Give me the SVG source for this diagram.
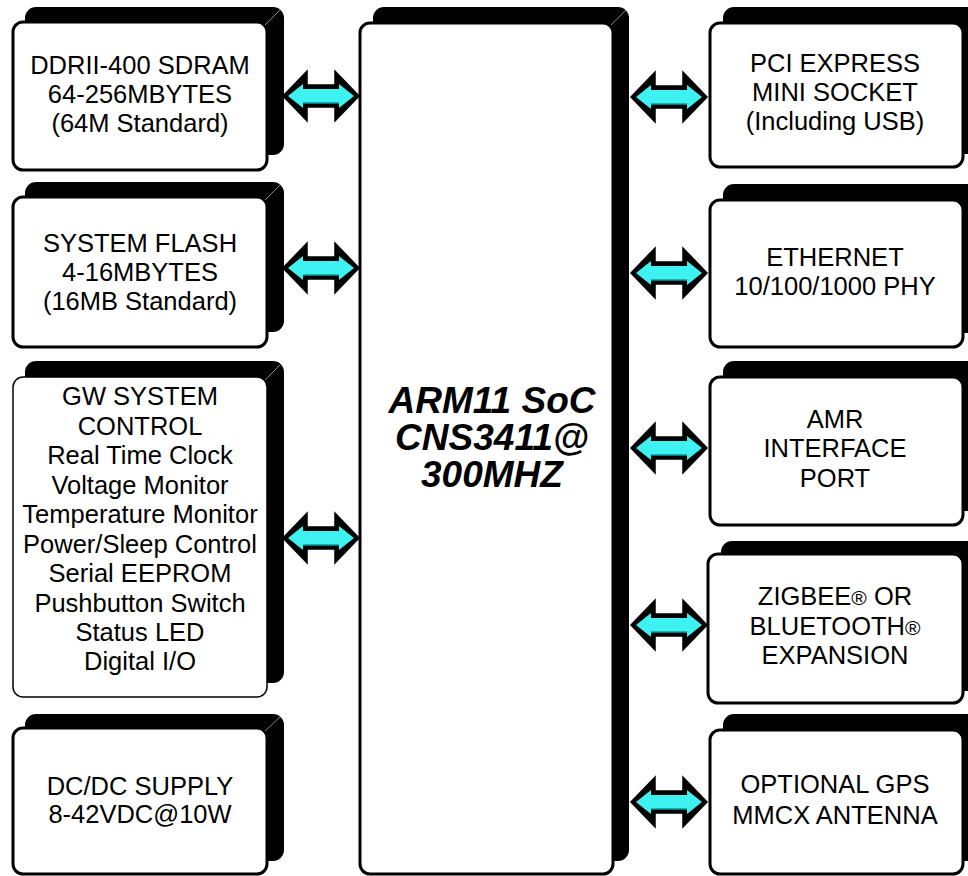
<svg xmlns="http://www.w3.org/2000/svg" xmlns:xlink="http://www.w3.org/1999/xlink" width="968" height="876" viewBox="0 0 968 876">
<style>
.slab{fill:#000;stroke:#000;stroke-width:2}
.front{fill:#fff;stroke:#000;stroke-width:3}
.thin{fill:#fff;stroke:#000;stroke-width:1.5}
.hl{fill:none;stroke:#888;stroke-width:1}
.t{font-family:"Liberation Sans",Arial,sans-serif;font-size:25.5px;text-anchor:middle;fill:#000}
.tc{font-family:"Liberation Sans",Arial,sans-serif;font-size:37px;font-weight:bold;font-style:italic;text-anchor:middle;fill:#000}
.reg{font-size:21px}
</style>
<defs>
<g id="dblarrow">
<polygon points="0,0 24,-25 24,-11 52,-11 52,-25 76,0 52,25 52,11 24,11 24,25" fill="#000" stroke="#000" stroke-width="1.5" stroke-linejoin="miter"/>
<polygon points="5,0 20,-12 20,-7 56,-7 56,-12 71,0 56,12 56,7 20,7 20,12" fill="#3ff2f2"/>
<line x1="20" y1="7" x2="56" y2="7" stroke="#0a9a9a" stroke-width="1.5"/>
</g>
</defs>
<rect width="968" height="876" fill="#fff"/>

<g id="connectors">
<use xlink:href="#dblarrow" x="283" y="96"/>
<use xlink:href="#dblarrow" x="283" y="268"/>
<use xlink:href="#dblarrow" x="283" y="538"/>
<use xlink:href="#dblarrow" x="631" y="97"/>
<use xlink:href="#dblarrow" x="631" y="273"/>
<use xlink:href="#dblarrow" x="631" y="448"/>
<use xlink:href="#dblarrow" x="631" y="625"/>
<use xlink:href="#dblarrow" x="631" y="802"/>
</g>

<g id="soc">
<rect class="slab" x="374" y="8" width="254" height="852" rx="10"/>
<rect class="front" x="360" y="23" width="253" height="851" rx="10"/>
<line class="hl" x1="611" y1="25" x2="626" y2="10"/>
<text class="tc" x="492" y="413">ARM11 SoC</text>
<text class="tc" x="492" y="450">CNS3411@</text>
<text class="tc" x="492" y="487">300MHZ</text>
</g>

<g id="ddr">
<rect class="slab" x="26" y="8" width="257" height="146" rx="10"/>
<rect class="front" x="13" y="22" width="254" height="148" rx="10"/>
<line class="hl" x1="265" y1="25" x2="280" y2="10"/>
<text class="t" x="140" y="74">DDRII-400 SDRAM</text>
<text class="t" x="140" y="103">64-256MBYTES</text>
<text class="t" x="140" y="132">(64M Standard)</text>
</g>

<g id="flash">
<rect class="slab" x="26" y="183" width="257" height="148" rx="10"/>
<rect class="front" x="13" y="197" width="254" height="150" rx="10"/>
<line class="hl" x1="265" y1="200" x2="280" y2="185"/>
<text class="t" x="140" y="252">SYSTEM FLASH</text>
<text class="t" x="140" y="281">4-16MBYTES</text>
<text class="t" x="140" y="310">(16MB Standard)</text>
</g>

<g id="gwctrl">
<rect class="slab" x="26" y="362" width="257" height="320" rx="10"/>
<rect class="thin" x="13" y="377" width="254" height="320" rx="10"/>
<line class="hl" x1="265" y1="380" x2="280" y2="365"/>
<text class="t" x="140" y="405">GW SYSTEM</text>
<text class="t" x="140" y="434.5">CONTROL</text>
<text class="t" x="140" y="464">Real Time Clock</text>
<text class="t" x="140" y="493.5">Voltage Monitor</text>
<text class="t" x="140" y="523">Temperature Monitor</text>
<text class="t" x="140" y="552.5">Power/Sleep Control</text>
<text class="t" x="140" y="582">Serial EEPROM</text>
<text class="t" x="140" y="611.5">Pushbutton Switch</text>
<text class="t" x="140" y="641">Status LED</text>
<text class="t" x="140" y="670">Digital I/O</text>
</g>

<g id="dcdc">
<rect class="slab" x="26" y="715" width="257" height="145" rx="10"/>
<rect class="front" x="13" y="728" width="254" height="146" rx="10"/>
<line class="hl" x1="265" y1="731" x2="280" y2="717"/>
<text class="t" x="140" y="795">DC/DC SUPPLY</text>
<text class="t" x="140" y="823">8-42VDC@10W</text>
</g>

<g id="pcie">
<rect class="slab" x="724" y="8" width="257" height="145" rx="10"/>
<rect class="front" x="710" y="23" width="253" height="144" rx="10"/>
<text class="t" x="835" y="72">PCI EXPRESS</text>
<text class="t" x="835" y="101">MINI SOCKET</text>
<text class="t" x="835" y="130">(Including USB)</text>
</g>

<g id="ethernet">
<rect class="slab" x="724" y="185" width="257" height="147" rx="10"/>
<rect class="front" x="710" y="200" width="253" height="147" rx="10"/>
<text class="t" x="835" y="266">ETHERNET</text>
<text class="t" x="835" y="295">10/100/1000 PHY</text>
</g>

<g id="amr">
<rect class="slab" x="724" y="362" width="257" height="148" rx="10"/>
<rect class="front" x="710" y="377" width="253" height="148" rx="10"/>
<text class="t" x="835" y="428">AMR</text>
<text class="t" x="835" y="457">INTERFACE</text>
<text class="t" x="835" y="487">PORT</text>
</g>

<g id="zigbee">
<rect class="slab" x="722" y="542" width="259" height="148" rx="10"/>
<rect class="front" x="708" y="554" width="255" height="149" rx="10"/>
<text class="t" x="835" y="605">ZIGBEE<tspan class="reg">®</tspan> OR</text>
<text class="t" x="835" y="635">BLUETOOTH<tspan class="reg">®</tspan></text>
<text class="t" x="835" y="664">EXPANSION</text>
</g>

<g id="gps">
<rect class="slab" x="724" y="715" width="257" height="145" rx="10"/>
<rect class="front" x="710" y="730" width="253" height="144" rx="10"/>
<text class="t" x="835" y="793">OPTIONAL GPS</text>
<text class="t" x="835" y="824">MMCX ANTENNA</text>
</g>
</svg>
